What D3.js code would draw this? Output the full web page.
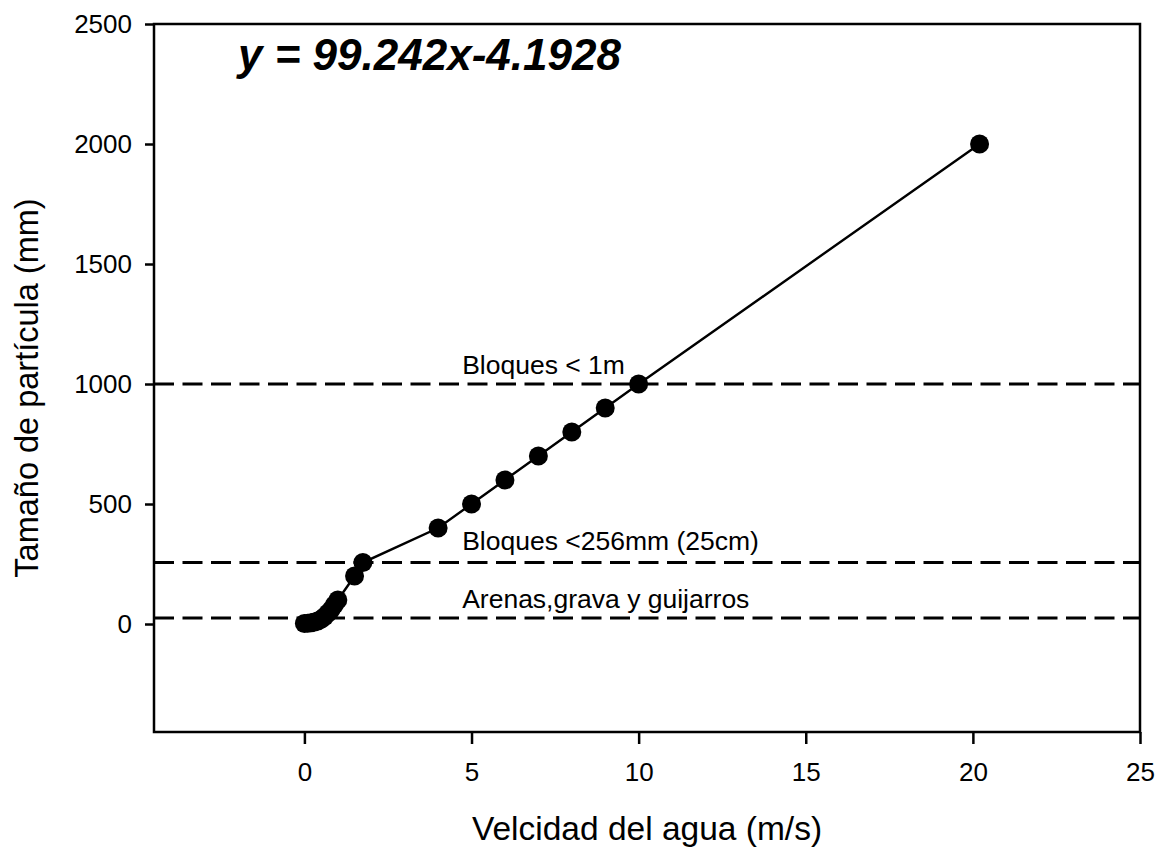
<!DOCTYPE html>
<html lang="es">
<head>
    <meta charset="UTF-8">
    <title>Tamaño de partícula vs velocidad del agua</title>
    <script src="https://d3js.org/d3.v7.min.js"></script>
    <style>
        body {
            margin: 0;
            background: #fff;
            font-family: "Liberation Sans", Arial, sans-serif;
        }
        svg text {
            fill: #000;
        }
    </style>
</head>
<body>
    <div id="chart"></div>

    <script>
        // velocidad del agua (m/s) y tamaño de particula (mm)
        const velocidad = [0, 0.1, 0.2, 0.3, 0.4, 0.5, 0.6, 0.7, 0.8, 0.9, 1.0, 1.5, 1.75, 4, 5, 6, 7, 8, 9, 10, 20.2];
        const tamano = [2, 3, 5, 8, 12, 20, 30, 45, 60, 80, 100, 200, 256, 400, 500, 600, 700, 800, 900, 1000, 2000];

        // lineas de referencia
        const limites = [1000, 256, 25];
        const limiteTextos = ['Bloques < 1m', 'Bloques <256mm (25cm)', 'Arenas,grava y guijarros'];

        const xTicks = [0, 5, 10, 15, 20, 25];
        const yTicks = [0, 500, 1000, 1500, 2000, 2500];

        const width = 1162, height = 850;
        const margin = {top: 24, right: 22, bottom: 118, left: 154};

        const svg = d3.select('#chart')
            .append('svg')
            .attr('width', width)
            .attr('height', height);

        const x = d3.scaleLinear()
            .domain([-4.5, 25])
            .range([margin.left, width - margin.right]);

        const y = d3.scaleLinear()
            .domain([-450, 2500])
            .range([height - margin.bottom, margin.top]);

        // marco
        svg.append('rect')
            .attr('x', x.range()[0])
            .attr('y', y.range()[1])
            .attr('width', x.range()[1] - x.range()[0])
            .attr('height', y.range()[0] - y.range()[1])
            .attr('fill', 'none')
            .attr('stroke', '#000')
            .attr('stroke-width', 2.5);

        const xAxis = svg.append('g')
            .attr('transform', `translate(0,${y.range()[0]})`)
            .call(d3.axisBottom(x).tickValues(xTicks).tickFormat(d3.format('d')).tickSize(12).tickPadding(19));

        const yAxis = svg.append('g')
            .attr('transform', `translate(${x.range()[0]},0)`)
            .call(d3.axisLeft(y).tickValues(yTicks).tickFormat(d3.format('d')).tickSize(9).tickPadding(13));

        [xAxis, yAxis].forEach(g => {
            g.select('.domain').remove();
            g.selectAll('line').attr('stroke', '#000').attr('stroke-width', 2.5);
            g.selectAll('text')
                .style('font-family', '"Liberation Sans", Arial, sans-serif')
                .style('font-size', '26px')
                .attr('fill', '#000');
        });

        // lineas discontinuas
        svg.selectAll('.limite')
            .data(limites)
            .enter()
            .append('line')
            .attr('class', 'limite')
            .attr('x1', x.range()[0])
            .attr('x2', x.range()[1])
            .attr('y1', d => y(d))
            .attr('y2', d => y(d))
            .attr('stroke', '#000')
            .attr('stroke-width', 3)
            .attr('stroke-dasharray', '20,8.5');

        svg.selectAll('.limite-texto')
            .data(limites)
            .enter()
            .append('text')
            .attr('class', 'limite-texto')
            .attr('x', x(4.72))
            .attr('y', (d, i) => y(d) - (i === 1 ? 13 : 10))
            .style('font-size', '26.5px')
            .text((d, i) => limiteTextos[i]);

        // serie
        const puntos = velocidad.map((v, i) => ({x: v, y: tamano[i]}));

        const line = d3.line()
            .x(d => x(d.x))
            .y(d => y(d.y));

        svg.append('path')
            .datum(puntos)
            .attr('d', line)
            .attr('fill', 'none')
            .attr('stroke', '#000')
            .attr('stroke-width', 2.4);

        svg.selectAll('circle')
            .data(puntos)
            .enter()
            .append('circle')
            .attr('cx', d => x(d.x))
            .attr('cy', d => y(d.y))
            .attr('r', 9.5)
            .attr('fill', '#000');

        // ecuacion
        svg.append('text')
            .attr('x', 238)
            .attr('y', 70)
            .style('font-size', '44px')
            .style('font-weight', 'bold')
            .style('font-style', 'italic')
            .text('y = 99.242x-4.1928');

        // titulos de ejes
        svg.append('text')
            .attr('x', (x.range()[0] + x.range()[1]) / 2)
            .attr('y', 840)
            .attr('text-anchor', 'middle')
            .style('font-size', '33.5px')
            .text('Velcidad del agua (m/s)');

        svg.append('text')
            .attr('transform', 'translate(38,388) rotate(-90)')
            .attr('text-anchor', 'middle')
            .style('font-size', '32.5px')
            .text('Tamaño de partícula (mm)');
    </script>
</body>
</html>
